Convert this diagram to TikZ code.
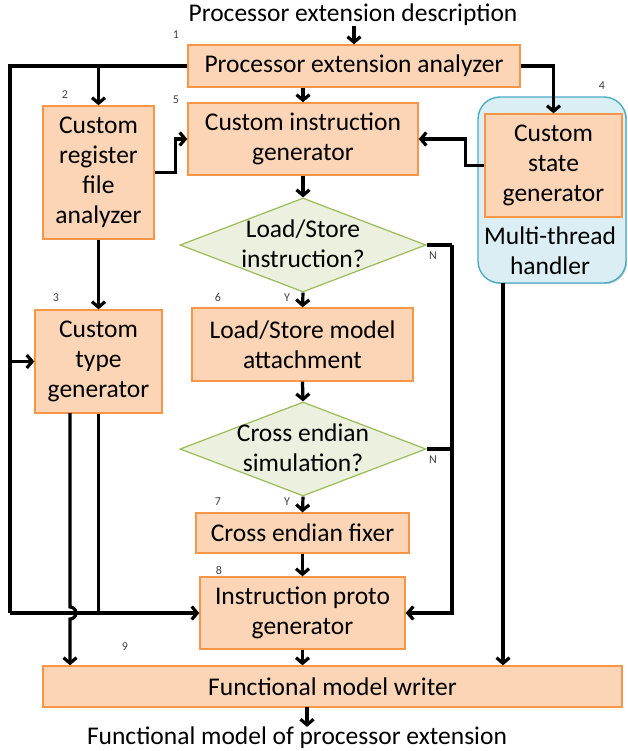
\documentclass[tikz,border=0pt]{standalone}
\usepackage{fontspec}
\setmainfont{Carlito}
\usetikzlibrary{arrows.meta,shapes.geometric,shadows}
\definecolor{boxfill}{HTML}{FBD5B5}
\definecolor{boxline}{HTML}{F79646}
\definecolor{diafill}{HTML}{EBF1DE}
\definecolor{dialine}{HTML}{9BBB59}
\definecolor{hdfill}{HTML}{DBEEF4}
\definecolor{hdline}{HTML}{4BACC6}
\definecolor{numgray}{HTML}{404040}
\begin{document}
\begin{tikzpicture}[x=1pt,y=-1pt,
  txt/.style={font=\fontsize{25.5}{30}\selectfont, align=center, inner sep=0pt},
  box/.style={txt, draw=boxline, fill=boxfill, line width=1.4pt,
    drop shadow={shadow xshift=1.2pt,shadow yshift=-1.2pt,fill=black,opacity=0.2}},
  dia/.style={diamond, draw=dialine, fill=diafill, line width=1.2pt, inner sep=0pt},
  arr/.style={line width=3.2pt, -{Straight Barb[length=5.5pt,width=13pt]}},
  ln/.style={line width=3.2pt},
  num/.style={font=\fontsize{12}{14}\selectfont, text=numgray, inner sep=0pt},
]
\useasboundingbox (0,0) rectangle (627,751);

% handler container
\node[draw=hdline, fill=hdfill, line width=1.4pt, rounded corners=22pt,
  minimum width=148pt, minimum height=186pt, inner sep=0pt,
  drop shadow={shadow xshift=1.2pt,shadow yshift=-1.2pt,fill=black,opacity=0.2}] (hd) at (552,190) {};
\node[txt] (hdt) at (550,251) {Multi-thread\\handler};

% boxes
\node[txt] (top) at (353,15) {Processor extension description};
\node[box, minimum width=332pt, minimum height=42pt] (b1) at (354,66) {Processor extension analyzer};
\node[box, minimum width=111pt, minimum height=133pt] (b2) at (98.5,172.5) {Custom\\register\\file\\analyzer};
\node[box, minimum width=230pt, minimum height=72pt] (b5) at (303,139) {Custom instruction\\generator};
\node[box, minimum width=137pt, minimum height=103pt] (b4) at (553.5,165.5) {Custom\\state\\generator};
\node[dia, minimum width=246pt, minimum height=94pt] (d1) at (303,245) {};
\node[txt] (d1t) at (303,244) {Load/Store\\instruction?};
\node[box, minimum width=127pt, minimum height=103pt] (b3) at (98.5,361.5) {Custom\\type\\generator};
\node[box, minimum width=221pt, minimum height=73pt] (b6) at (302.5,344.5) {Load/Store model\\attachment};
\node[dia, minimum width=246pt, minimum height=94pt] (d2) at (303,449) {};
\node[txt] (d2t) at (303,448) {Cross endian\\simulation?};
\node[box, minimum width=213pt, minimum height=40pt] (b7) at (302.5,533) {Cross endian fixer};
\node[box, minimum width=205pt, minimum height=72pt] (b8) at (302.5,613) {Instruction proto\\generator};
\node[box, minimum width=579pt, minimum height=41pt] (b9) at (332.5,686.5) {Functional model writer};
\node[txt] (bot) at (297,738) {Functional model of processor extension};

% numbers and labels
\node[num] (n1) at (176,35) {1};
\node[num] (n2) at (65,95) {2};
\node[num] (n5) at (176,100) {5};
\node[num] (n4) at (602,86) {4};
\node[num] (n3) at (56,298) {3};
\node[num] (n6) at (218,297) {6};
\node[num] (y1) at (287,298) {Y};
\node[num] (N1) at (433,256) {N};
\node[num] (N2) at (433,460) {N};
\node[num] (n7) at (218,502) {7};
\node[num] (y2) at (287,502) {Y};
\node[num] (n8) at (219,570) {8};
\node[num] (n9) at (125,647) {9};

% coordinates
\coordinate (L) at (10,66);
\coordinate (R) at (452,245);
\coordinate (hs) at (503,283);
\coordinate (o9) at (307,707);
\coordinate (hopx) at (70,413);

% connectors
\draw[arr] (top.south -| b1.north) -- (b1.north);
\draw[ln] (b1.west) -- (L) -- (L |- b8.west);
\draw[arr] (L |- b8.west) -- (b8.west);
\draw[arr] (L |- b3.west) -- (b3.west);
\draw[arr] (b2.north |- b1.west) -- (b2.north);
\draw[arr] (b5.north |- b1.south) -- (b5.north);
\draw[arr] (b1.east) -| (b4.north);
\draw[arr] (b2.east) -- ++(21,0) |- (b5.west);
\draw[arr] (b4.west) -- ++(-19,0) |- (b5.east);
\draw[arr] (b5.south) -- (d1.north);
\draw[arr] (d1.south) -- (b6.north);
\draw[ln] (d1.east) -- (R);
\draw[arr] (R) |- (b8.east);
\draw[ln] (d2.east) -- (d2.east -| R);
\draw[arr] (b6.south) -- (d2.north);
\draw[arr] (d2.south) -- (b7.north);
\draw[arr] (b7.south) -- (b8.north);
\draw[arr] (b8.south) -- (b8.south |- b9.north);
\draw[arr] (b2.south) -- (b3.north);
\draw[ln] (b3.south) -- (b3.south |- b8.west);
\draw[arr] (hopx) -- (70,607) arc[start angle=-90, end angle=90, radius=6] -- (hopx |- b9.north);
\draw[arr] (hs) -- (hs |- b9.north);
\draw[arr] (o9) -- (o9 |- bot.north);
\end{tikzpicture}
\end{document}
